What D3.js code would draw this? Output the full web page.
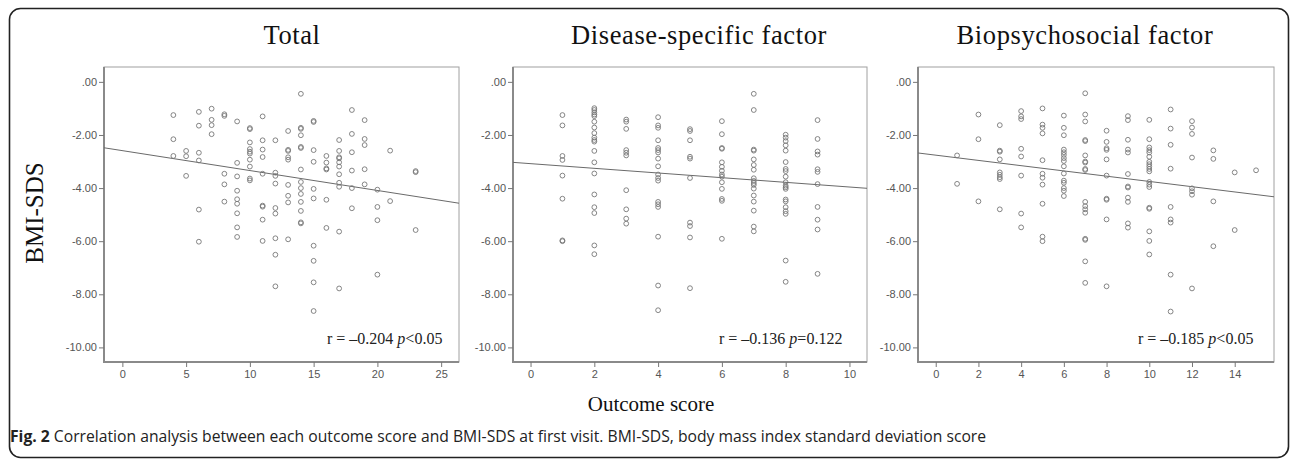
<!DOCTYPE html>
<html>
<head>
<meta charset="utf-8">
<script src="https://cdn.jsdelivr.net/npm/d3@7"></script>
<style>
  body { margin: 0; background: #fff; }
</style>
</head>
<body>
<svg></svg>
<script>
const width = 1295;
const height = 461;

// panel titles and the score axis of each panel
const titles = ["Total", "Disease-specific factor", "Biopsychosocial factor"];
const xTicks = [[0, 5, 10, 15, 20, 25], [0, 2, 4, 6, 8, 10], [0, 2, 4, 6, 8, 10, 12, 14]];
const xDomains = [[-1.44, 26.4], [-0.55, 10.55], [-0.83, 15.84]];
const yTicks = [0, -2, -4, -6, -8, -10];
const yDomain = [-10.55, 0.56];

// Total: outcome score -> BMI-SDS values
const totalScores = [4, 5, 6, 7, 8, 9, 10, 11, 12, 13, 14, 15, 16, 17, 18, 19, 20, 21, 23];
const totalBmi = [
  [-1.25, -2.16, -2.79],
  [-2.6, -2.8, -3.54],
  [-1.13, -1.65, -2.67, -2.96, -4.81, -6.02],
  [-1.01, -1.43, -1.63, -1.97],
  [-1.22, -1.28, -3.46, -3.86, -4.51],
  [-1.49, -3.05, -3.56, -4.1, -4.42, -4.59, -4.95, -5.48, -5.84],
  [-1.74, -1.78, -2.28, -2.53, -2.63, -2.7, -2.93, -3.19, -3.64, -3.71],
  [-1.3, -2.2, -2.55, -2.83, -3.46, -4.66, -4.7, -5.19, -5.99],
  [-2.2, -3.42, -3.54, -3.83, -4.75, -4.96, -5.89, -6.51, -7.7],
  [-1.85, -2.56, -2.6, -2.84, -2.93, -3.88, -4.29, -4.54, -5.93],
  [-0.45, -1.73, -1.77, -2.01, -2.45, -2.49, -3.3, -3.77, -4.0, -4.22, -4.52, -4.86, -5.29, -5.33],
  [-1.47, -1.51, -2.57, -3.01, -4.03, -4.39, -6.17, -6.74, -7.55, -8.63],
  [-2.79, -3.04, -3.26, -3.3, -4.44, -5.5],
  [-2.19, -2.6, -2.84, -2.88, -3.03, -3.19, -3.48, -3.8, -3.95, -5.64, -7.78],
  [-1.06, -1.96, -2.65, -3.34, -4.0, -4.76],
  [-1.44, -2.15, -2.38, -3.29, -3.86],
  [-4.06, -4.71, -5.21, -7.26],
  [-2.59, -4.49],
  [-3.36, -3.4, -5.58]
];

// Disease-specific factor
const diseaseScores = [1, 2, 3, 4, 5, 6, 7, 8, 9];
const diseaseBmi = [
  [-1.25, -1.64, -2.79, -2.94, -3.53, -4.4, -5.97, -6.0],
  [-0.99, -1.06, -1.15, -1.23, -1.29, -1.5, -1.72, -1.93, -2.1, -2.19, -2.25, -2.6, -3.03, -3.45, -4.24, -4.72, -4.94, -6.16, -6.49],
  [-1.42, -1.5, -1.77, -2.57, -2.67, -2.77, -4.08, -4.8, -5.15, -5.34],
  [-1.33, -1.64, -1.73, -2.2, -2.49, -2.57, -2.66, -2.89, -3.18, -3.49, -3.62, -3.72, -4.52, -4.61, -4.71, -5.83, -7.67, -8.6],
  [-1.78, -1.85, -2.2, -2.82, -2.89, -3.62, -5.3, -5.43, -5.86, -7.77],
  [-1.48, -1.97, -2.49, -2.52, -3.03, -3.2, -3.35, -3.49, -3.57, -3.78, -4.03, -4.41, -4.48, -5.91],
  [-0.45, -1.06, -2.55, -2.59, -2.92, -3.13, -3.31, -3.63, -3.73, -3.81, -3.88, -4.02, -4.28, -4.51, -4.85, -5.45, -5.63],
  [-1.99, -2.1, -2.23, -2.39, -2.59, -3.02, -3.28, -3.36, -3.57, -3.78, -3.91, -3.97, -4.03, -4.43, -4.5, -4.72, -4.87, -4.97, -6.73, -7.53],
  [-1.44, -2.15, -2.62, -2.74, -3.29, -3.39, -3.85, -4.71, -5.19, -5.56, -7.23]
];

// Biopsychosocial factor
const bioScores = [1, 2, 3, 4, 5, 6, 7, 8, 9, 10, 11, 12, 13, 14, 15];
const bioBmi = [
  [-2.77, -3.84],
  [-1.23, -2.16, -4.5],
  [-1.63, -2.59, -2.63, -2.92, -3.41, -3.5, -3.59, -3.66, -4.8],
  [-1.1, -1.3, -1.4, -2.52, -2.81, -3.53, -4.96, -5.48],
  [-1.0, -1.61, -1.73, -1.94, -2.95, -3.46, -3.61, -3.87, -4.59, -5.83, -6.0],
  [-1.27, -1.73, -2.01, -2.55, -2.65, -2.75, -2.87, -2.98, -3.18, -3.45, -3.72, -3.8, -4.0, -4.1, -4.3],
  [-0.43, -1.23, -1.49, -2.19, -2.23, -2.77, -3.0, -3.04, -3.28, -3.32, -4.52, -4.68, -4.8, -4.93, -5.91, -5.95, -6.76, -7.57],
  [-1.84, -2.26, -2.5, -2.56, -2.92, -3.53, -4.4, -4.44, -5.18, -7.7],
  [-1.29, -1.44, -2.18, -2.55, -2.66, -3.47, -3.94, -3.98, -4.36, -4.52, -5.33, -5.49],
  [-1.43, -2.16, -2.47, -2.57, -2.66, -2.82, -3.01, -3.1, -3.19, -3.28, -3.37, -3.77, -3.87, -3.96, -4.74, -4.78, -5.63, -5.99, -6.5],
  [-1.04, -1.76, -2.37, -3.27, -4.71, -5.18, -5.3, -7.26, -8.65],
  [-1.48, -1.72, -1.96, -2.85, -4.01, -4.12, -4.25, -7.78],
  [-2.58, -2.9, -4.5, -6.19],
  [-3.41, -5.58],
  [-3.33]
];

// fitted regression lines and correlation labels
const fitIntercept = [-2.59, -3.08, -2.76];
const fitSlope = [-0.075, -0.088, -0.099];
const rLabels = ["r = \u20130.204 ", "r = \u20130.136 ", "r = \u20130.185 "];
const pLabels = ["<0.05", "=0.122", "<0.05"];

const scores = [totalScores, diseaseScores, bioScores];
const bmis = [totalBmi, diseaseBmi, bioBmi];

const frames = [
  { left: 104, right: 459, titleX: 292, statX: 327 },
  { left: 513, right: 867, titleX: 699, statX: 719 },
  { left: 918, right: 1274, titleX: 1085, statX: 1138 }
];
const plotTop = 67, plotBottom = 362;

const svg = d3.select("svg")
  .attr("width", width)
  .attr("height", height);

// outer rounded box
svg.append("rect")
  .attr("x", 9.5).attr("y", 8.5)
  .attr("width", 1279).attr("height", 449)
  .attr("rx", 11)
  .style("fill", "none")
  .style("stroke", "#222")
  .style("stroke-width", 1.6);

const yScale = d3.scaleLinear().domain(yDomain).range([plotBottom, plotTop]);

frames.forEach((f, i) => drawPanel(i, f));

// shared labels
svg.append("text")
  .attr("transform", "translate(43,213) rotate(-90)")
  .attr("text-anchor", "middle")
  .style("font-family", "'Liberation Serif', serif")
  .style("font-size", "25px")
  .style("fill", "#111")
  .text("BMI-SDS");

svg.append("text")
  .attr("x", 651).attr("y", 411)
  .attr("text-anchor", "middle")
  .style("font-family", "'Liberation Serif', serif")
  .style("font-size", "21px")
  .style("fill", "#111")
  .text("Outcome score");

const caption = svg.append("text")
  .attr("x", 10).attr("y", 442)
  .style("font-family", "'Open Sans', sans-serif")
  .style("font-size", "15.7px")
  .style("fill", "#222");
caption.append("tspan").style("font-weight", "bold").text("Fig. 2");
caption.append("tspan").text(" Correlation analysis between each outcome score and BMI-SDS at first visit. BMI-SDS, body mass index standard deviation score");

function drawPanel(i, f) {
  const x = d3.scaleLinear().domain(xDomains[i]).range([f.left, f.right]);
  const g = svg.append("g");

  g.append("text")
    .attr("x", f.titleX)
    .attr("y", 44)
    .attr("text-anchor", "middle")
    .style("font-family", "'Liberation Serif', serif")
    .style("font-size", "26.5px")
    .style("letter-spacing", "0.6px")
    .style("fill", "#111")
    .text(titles[i]);

  // light frame, heavier left and bottom axis lines
  g.append("rect")
    .attr("x", f.left).attr("y", plotTop)
    .attr("width", f.right - f.left).attr("height", plotBottom - plotTop)
    .style("fill", "none")
    .style("stroke", "#a0a0a0")
    .style("stroke-width", 1);
  g.append("path")
    .attr("d", `M${f.left},${plotTop}V${plotBottom}H${f.right}`)
    .style("fill", "none")
    .style("stroke", "#8a8a8a")
    .style("stroke-width", 2);

  const yAxis = g.append("g")
    .attr("transform", `translate(${f.left},0)`)
    .call(d3.axisLeft(yScale).tickValues(yTicks).tickSize(5).tickPadding(2)
      .tickFormat(d => d === 0 ? ".00" : d.toFixed(2)));
  const xAxis = g.append("g")
    .attr("transform", `translate(0,${plotBottom})`)
    .call(d3.axisBottom(x).tickValues(xTicks[i]).tickSize(5).tickPadding(3));

  [yAxis, xAxis].forEach(a => {
    a.select(".domain").remove();
    a.selectAll("line").style("stroke", "#777");
    a.selectAll("text")
      .style("font-family", "'Liberation Sans', sans-serif")
      .style("font-size", "11px")
      .style("fill", "#555");
  });

  // regression line across the whole plot width
  const xd = xDomains[i];
  g.append("line")
    .attr("x1", x(xd[0])).attr("y1", yScale(fitIntercept[i] + fitSlope[i] * xd[0]))
    .attr("x2", x(xd[1])).attr("y2", yScale(fitIntercept[i] + fitSlope[i] * xd[1]))
    .style("stroke", "#6a6a6a")
    .style("stroke-width", 1);

  const pts = [];
  scores[i].forEach((s, k) => bmis[i][k].forEach(v => pts.push([s, v])));

  g.selectAll("circle")
    .data(pts)
    .enter().append("circle")
    .attr("cx", d => x(d[0]))
    .attr("cy", d => yScale(d[1]))
    .attr("r", 2.4)
    .style("fill", "none")
    .style("stroke", "#777")
    .style("stroke-width", 0.9);

  const stat = g.append("text")
    .attr("x", f.statX).attr("y", 344)
    .style("font-family", "'Liberation Serif', serif")
    .style("font-size", "16px")
    .style("fill", "#222");
  stat.append("tspan").text(rLabels[i]);
  stat.append("tspan").style("font-style", "italic").text("p");
  stat.append("tspan").text(pLabels[i]);
}
</script>
</body>
</html>
